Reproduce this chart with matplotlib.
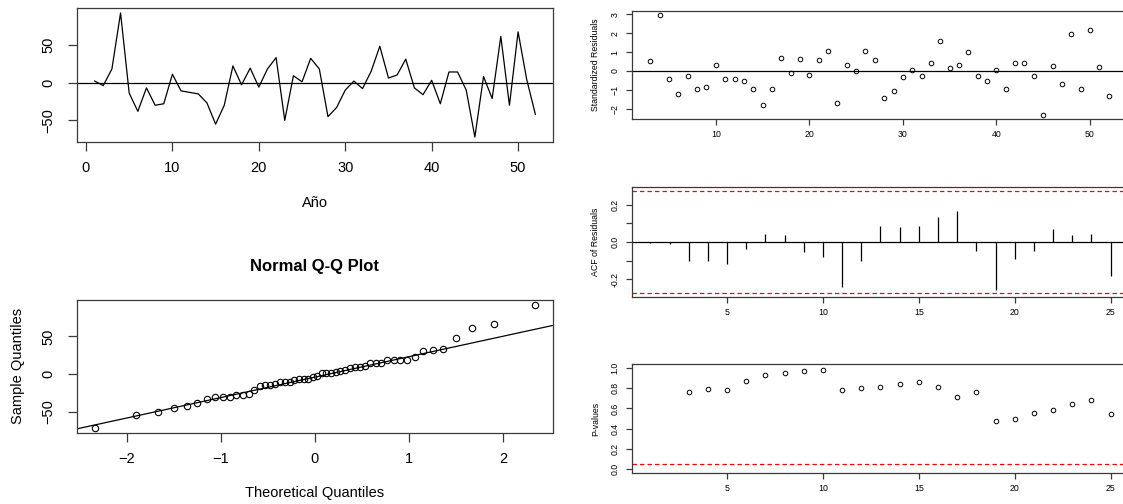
import numpy as np
import matplotlib
matplotlib.use("Agg")
import matplotlib.pyplot as plt
from statistics import NormalDist

plt.rcParams['font.family'] = ['Liberation Sans', 'DejaVu Sans']

# ---------------- data ----------------
years = list(range(1, 53))
series = [2, -4, 18, 92, -14, -38, -7, -30, -28, 11,
          -11, -13, -15, -27, -55, -30, 22, -3, 19, -6,
          18, 33, -50, 9, 1, 32, 18, -45, -33, -10,
          2, -8, 15, 48, 6, 10, 31, -7, -16, 3,
          -28, 14, 14, -10, -72, 8, -21, 61, -30, 67,
          4, -42]

resid_time = list(range(3, 53))
std_resid = [0.51, 2.96, -0.44, -1.21, -0.26, -0.98, -0.86, 0.33, -0.40, -0.44,
             -0.53, -0.95, -1.81, -0.98, 0.70, -0.12, 0.61, -0.23, 0.56, 1.05,
             -1.67, 0.30, -0.02, 1.07, 0.58, -1.42, -1.05, -0.33, 0.07, -0.28,
             0.40, 1.58, 0.16, 0.32, 1.00, -0.25, -0.51, 0.07, -0.93, 0.44,
             0.44, -0.28, -2.33, 0.26, -0.68, 1.98, -0.96, 2.16, 0.21, -1.33]

acf_lags = list(range(1, 26))
acf_vals = [-0.005, -0.01, -0.10, -0.10, -0.115, -0.04, 0.043, 0.038, -0.053, -0.08,
            -0.243, -0.10, 0.083, 0.08, 0.083, 0.136, 0.163, -0.047, -0.254, -0.09,
            -0.047, 0.069, 0.038, 0.043, -0.18]
acf_bound = 0.272

pval_lags = list(range(3, 26))
pvals = [0.763, 0.79, 0.78, 0.875, 0.928, 0.954, 0.970, 0.980, 0.78, 0.80,
         0.816, 0.842, 0.859, 0.816, 0.714, 0.766, 0.474, 0.50, 0.553, 0.589,
         0.641, 0.681, 0.543]
pval_level = 0.05
pval_xrange = [1, 25]

# ---------------- helpers ----------------
W, H = 1123, 504
fig = plt.figure(figsize=(W / 100, H / 100), dpi=100)


def add_ax(l, r, t, b):
    return fig.add_axes([l / W, 1 - b / H, (r - l) / W, (b - t) / H])


def rlim(vals):
    lo, hi = min(vals), max(vals)
    pad = (hi - lo) * 0.04
    return lo - pad, hi + pad


def style(ax, fs, tl, padx, pady, lw=0.9):
    for s in ax.spines.values():
        s.set_color('#3a3a3a')
        s.set_linewidth(lw)
    ax.tick_params(axis='both', length=tl, width=lw, color='#3a3a3a', labelsize=fs)
    ax.tick_params(axis='x', pad=padx)
    ax.tick_params(axis='y', pad=pady)
    for lab in ax.get_yticklabels():
        lab.set_rotation(90)
        lab.set_va('center')


def ftext(x, y, s, **kw):
    fig.text(x / W, 1 - y / H, s, ha='center', va='center', **kw)


# ---------------- time series ----------------
ax1 = add_ax(77, 553, 8, 142)
ax1.plot(years, series, color='black', lw=0.9)
ax1.axhline(0, color='black', lw=0.9)
ax1.set_xlim(*rlim(years))
ax1.set_ylim(*rlim(series))
ax1.set_xticks([0, 10, 20, 30, 40, 50])
ax1.set_yticks([-50, 0, 50])
style(ax1, 10.5, 6.5, 7, 9)
ftext(315, 203, 'Año', fontsize=10.5)

# ---------------- QQ plot ----------------
n = len(series)
nd = NormalDist()
theo = [nd.inv_cdf((i - 0.5) / n) for i in range(1, n + 1)]
samp = sorted(series)
ax2 = add_ax(77, 553, 300, 433)
ax2.plot(theo, samp, 'o', mfc='none', mec='black', ms=4.6, mew=0.8)
q1, q3 = np.percentile(series, [25, 75])
z1, z3 = nd.inv_cdf(0.25), nd.inv_cdf(0.75)
slope = (q3 - q1) / (z3 - z1)
inter = q1 - slope * z1
ax2.axline((0, inter), slope=slope, color='black', lw=0.9)
ax2.set_xlim(*rlim(theo))
ax2.set_ylim(*rlim(samp))
ax2.set_xticks([-2, -1, 0, 1, 2])
ax2.set_yticks([-50, 0, 50])
style(ax2, 10.5, 6.5, 7, 9)
ftext(315, 267, 'Normal Q-Q Plot', fontsize=12, fontweight='bold')
ftext(18.5, 366, 'Sample Quantiles', fontsize=10.5, rotation=90)
ftext(315, 493.5, 'Theoretical Quantiles', fontsize=10.5)

# ---------------- standardized residuals ----------------
ax3 = add_ax(632, 1127, 11, 119)
ax3.plot(resid_time, std_resid, 'o', mfc='none', mec='black', ms=3.3, mew=0.7)
ax3.axhline(0, color='black', lw=0.9)
ax3.set_xlim(*rlim(resid_time))
ax3.set_ylim(*rlim(std_resid))
ax3.set_xticks([10, 20, 30, 40, 50])
ax3.set_yticks([-2, -1, 0, 1, 2, 3])
style(ax3, 6.3, 4, 4, 5)
ftext(595.5, 65, 'Standardized Residuals', fontsize=6.3, rotation=90)

# ---------------- ACF ----------------
ax4 = add_ax(632, 1129, 187, 297)
ax4.vlines(acf_lags, 0, acf_vals, color='black', lw=0.9)
ax4.axhline(0, color='black', lw=0.9)
for b in (acf_bound, -acf_bound):
    ax4.axhline(b, color='red', lw=0.9, ls=(0, (3.5, 2.5)))
ax4.set_xlim(*rlim(acf_lags))
ax4.set_ylim(*rlim(acf_vals + [acf_bound, -acf_bound]))
ax4.set_xticks([5, 10, 15, 20, 25])
ax4.set_yticks([-0.2, -0.1, 0.0, 0.1, 0.2])
ax4.set_yticklabels(['-0.2', '', '0.0', '', '0.2'])
style(ax4, 6.3, 4, 4, 5)
ftext(595.5, 242, 'ACF of Residuals', fontsize=6.3, rotation=90)

# ---------------- p-values ----------------
ax5 = add_ax(632, 1129, 364, 473)
ax5.plot(pval_lags, pvals, 'o', mfc='none', mec='black', ms=3.3, mew=0.7)
ax5.axhline(pval_level, color='red', lw=0.9, ls=(0, (3.5, 2.5)))
ax5.set_xlim(*rlim(pval_xrange))
ax5.set_ylim(*rlim([0, 1]))
ax5.set_xticks([5, 10, 15, 20, 25])
ax5.set_yticks([0.0, 0.2, 0.4, 0.6, 0.8, 1.0])
ax5.set_yticklabels(['0.0', '0.2', '0.4', '0.6', '0.8', '1.0'])
style(ax5, 6.3, 4, 4, 5)
ftext(595.5, 418.5, 'P-values', fontsize=6.3, rotation=90)

fig.savefig('out.png', dpi=100)
